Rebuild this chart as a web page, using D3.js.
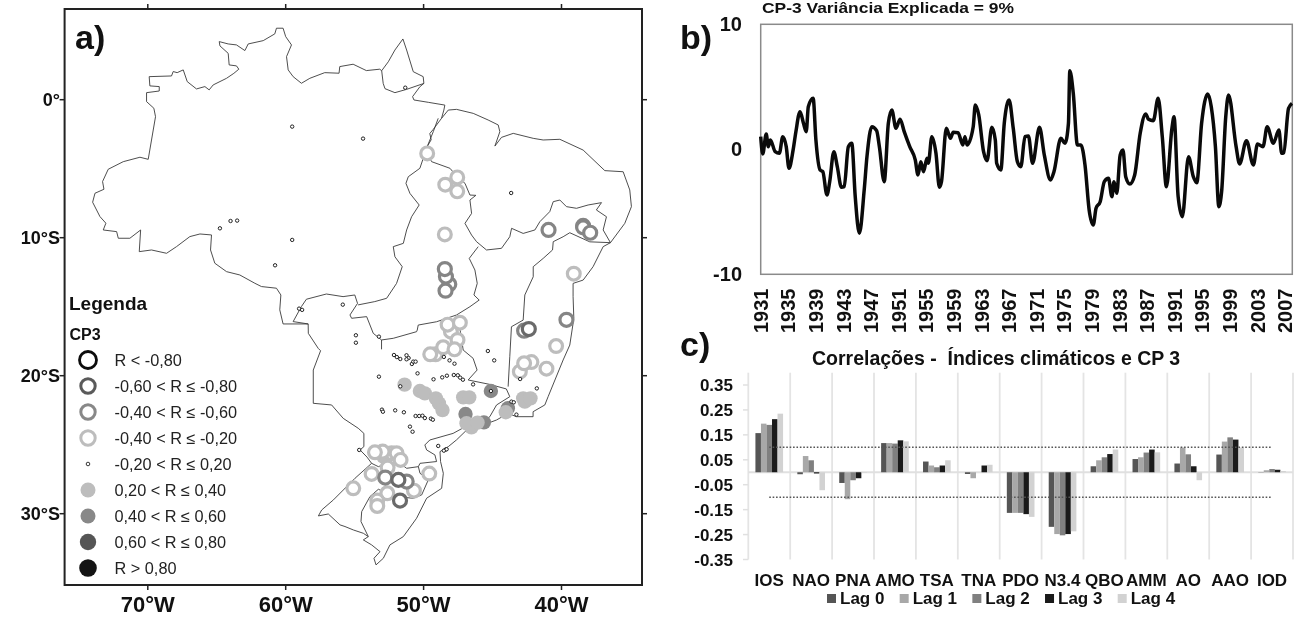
<!DOCTYPE html>
<html><head><meta charset="utf-8">
<script src="https://cdn.jsdelivr.net/npm/d3@7/dist/d3.min.js"></script>
<style>
html,body{margin:0;padding:0;background:#fff}
svg{display:block;font-family:"Liberation Sans",Arial,sans-serif;filter:blur(0.4px)}
</style></head><body><svg id="c" width="1296" height="619"></svg>
<script>
// ---------- panel a: basin boundaries [lon,lat]
const outlineNorth=[[-74.00,-7.43],[-73.83,-6.78],[-73.18,-6.49],[-73.28,-5.93],[-72.87,-5.04],[-71.78,-4.49],[-70.57,-4.17],[-69.97,-4.32],[-69.44,-1.23],[-69.56,-0.62],[-70.09,-0.14],[-70.09,0.51],[-69.17,0.63],[-69.17,0.95],[-69.85,1.00],[-69.90,1.67],[-68.28,1.72],[-68.16,2.04],[-67.87,1.96],[-67.43,2.16],[-67.14,1.31],[-66.47,0.78],[-65.86,0.95],[-65.55,0.71],[-65.26,1.07],[-64.29,1.55],[-63.76,1.91],[-63.40,2.21],[-63.57,2.45],[-64.10,2.52],[-64.17,3.36],[-64.77,3.90],[-64.82,4.21],[-64.17,4.04],[-63.57,3.97],[-62.96,3.56],[-62.72,4.04],[-61.63,4.28],[-60.79,4.77],[-60.67,5.18],[-60.19,5.18],[-60.0,4.57],[-59.58,3.97],[-59.94,3.12],[-59.82,2.16],[-59.46,1.67],[-58.86,1.19],[-58.25,1.55],[-57.17,1.96],[-56.13,1.92],[-56.08,2.40],[-55.11,2.57],[-54.15,2.11],[-53.18,2.21],[-53.04,2.10],[-52.56,2.75],[-52.08,3.60],[-51.50,4.40],[-51.23,3.60],[-50.75,2.03],[-50.03,1.67],[-49.98,1.18],[-50.27,0.94],[-50.80,0.22],[-50.70,-0.02],[-49.66,-0.19],[-48.46,-0.39],[-48.53,-0.75],[-48.70,-1.35]];
const amapaInner=[[-53.04,2.10],[-52.93,1.18],[-52.80,0.80],[-52.08,0.51],[-51.23,0.75],[-49.98,1.18]];
const tocantinsWest=[[-48.94,-1.35],[-49.30,-2.32],[-49.74,-3.40],[-50.27,-4.97],[-51.11,-5.58],[-51.28,-6.06],[-50.99,-6.79],[-50.32,-7.63],[-50.87,-8.48],[-51.23,-9.44],[-51.47,-10.41],[-52.20,-10.65],[-52.08,-11.38],[-51.55,-12.10],[-51.96,-13.31],[-52.68,-14.39],[-53.54,-14.63],[-54.75,-14.87]];
const mouthChannel=[[-48.70,-1.35],[-49.30,-2.15],[-49.55,-2.45],[-49.45,-2.90],[-49.74,-3.40]];
const westSouth=[[-74.00,-7.43],[-73.47,-8.47],[-73.04,-8.95],[-73.23,-9.44],[-72.26,-9.56],[-72.14,-10.04],[-71.30,-10.04],[-70.52,-9.44],[-70.62,-11.01],[-69.73,-10.89],[-68.64,-11.13],[-67.92,-10.65],[-66.95,-9.92],[-66.22,-9.73],[-65.38,-9.80],[-65.45,-10.89],[-65.14,-11.85],[-64.29,-12.46],[-63.33,-12.70],[-62.24,-13.30],[-61.76,-13.54],[-60.67,-13.66],[-60.35,-14.15],[-60.43,-15.23],[-60.19,-16.25],[-58.37,-16.25],[-58.36,-16.93],[-57.64,-18.02],[-57.47,-18.19],[-58.0,-19.59],[-58.0,-22.0],[-56.67,-22.12],[-55.83,-23.09],[-54.74,-23.81],[-54.33,-24.18],[-54.33,-25.14],[-54.61,-25.38],[-54.10,-25.90],[-53.77,-26.35],[-54.97,-27.43],[-55.82,-28.28],[-56.54,-29.0],[-57.39,-29.73],[-57.63,-30.16],[-56.91,-30.02],[-56.06,-30.81],[-55.70,-30.93],[-55.09,-31.18],[-54.37,-31.42],[-54.01,-31.66],[-54.37,-31.90],[-53.77,-32.26],[-53.16,-32.75],[-53.60,-33.23],[-53.45,-33.71],[-52.92,-33.23],[-52.44,-32.26],[-51.47,-31.66],[-50.51,-30.33],[-49.78,-28.88],[-48.69,-28.16],[-48.57,-27.07],[-48.77,-26.22],[-48.81,-25.50],[-48.21,-25.14],[-47.61,-24.65],[-46.89,-23.95],[-45.68,-23.57],[-44.71,-23.21],[-43.87,-22.73],[-43.27,-22.97],[-42.06,-22.97],[-42.06,-22.61],[-41.21,-22.12],[-40.97,-21.52],[-39.88,-18.86],[-39.40,-17.78],[-39.16,-16.21],[-39.11,-15.72],[-39.16,-14.27],[-39.16,-13.31],[-38.43,-13.07],[-37.71,-12.10],[-36.98,-10.65],[-36.45,-10.36],[-35.41,-8.96],[-34.93,-7.75],[-35.05,-6.54],[-35.53,-5.22],[-36.86,-5.14],[-38.43,-3.65],[-40.12,-2.87],[-41.33,-2.92],[-42.05,-2.80],[-43.50,-2.44],[-44.35,-2.73],[-44.83,-3.36],[-44.47,-2.32],[-44.59,-1.83],[-45.32,-1.47],[-46.40,-0.99],[-47.61,-0.70],[-48.21,-0.75],[-48.70,-1.35]];
const topParaguay=[[-58.37,-16.25],[-59.46,-16.08],[-58.86,-14.99],[-58.50,-14.46],[-57.05,-14.08],[-55.84,-14.27],[-54.99,-14.15],[-54.79,-14.76],[-55.34,-15.60],[-55.22,-15.84],[-54.13,-15.72],[-53.65,-16.93],[-53.05,-17.41],[-53.05,-18.09]];
const parTop=[[-53.05,-17.41],[-52.20,-17.29],[-50.51,-16.81],[-50.46,-16.69],[-50.39,-16.33],[-49.06,-16.09],[-47.61,-15.60],[-46.64,-15.0],[-45.97,-14.52],[-46.35,-14.15],[-46.11,-13.31],[-46.28,-12.34],[-46.69,-11.50],[-46.04,-10.65]];
const tocantinsEast=[[-49.74,-3.89],[-49.42,-4.49],[-48.09,-4.97],[-47.56,-5.58],[-47.0,-6.06],[-46.64,-6.91],[-46.21,-6.93],[-46.64,-7.27],[-46.52,-8.24],[-47.0,-8.96],[-46.52,-9.81],[-46.16,-10.29],[-45.44,-10.89],[-44.35,-10.77],[-43.75,-9.93],[-43.62,-9.32],[-42.78,-9.69],[-41.93,-9.44],[-41.57,-8.84],[-40.85,-8.11],[-40.60,-7.39],[-40.12,-7.27],[-39.64,-7.75],[-38.91,-7.87],[-38.07,-7.63],[-37.10,-7.46],[-37.47,-7.99],[-36.74,-8.48],[-36.98,-9.44],[-36.45,-10.36]];
const eastDivide=[[-36.45,-10.36],[-37.95,-10.30],[-39.40,-9.64],[-39.88,-9.93],[-40.60,-10.29],[-40.65,-10.89],[-41.33,-11.50],[-42.05,-12.10],[-42.05,-12.83],[-42.66,-14.15],[-42.78,-15.97],[-43.63,-16.45],[-43.75,-18.62],[-43.87,-20.79]];
const saoFrancisco=[[-47.49,-15.84],[-47.30,-17.00],[-47.13,-18.14],[-46.41,-18.74],[-46.12,-19.59],[-46.77,-20.31],[-45.20,-20.63],[-44.0,-20.96],[-43.75,-21.52],[-44.71,-22.12],[-45.20,-22.97],[-45.68,-23.33],[-46.89,-23.65],[-47.86,-24.18],[-49.55,-24.66],[-49.91,-25.02],[-49.78,-25.38],[-49.18,-25.74],[-49.06,-26.22],[-50.26,-26.35],[-50.38,-26.59]];
const iguacu=[[-53.77,-26.35],[-53.28,-26.59],[-52.68,-26.35],[-51.71,-26.35],[-51.23,-26.71],[-50.38,-26.59],[-50.26,-27.07],[-49.66,-27.55],[-50.14,-28.64],[-50.75,-28.88],[-52.08,-28.76],[-53.28,-28.23],[-53.89,-28.76],[-54.49,-29.85],[-54.54,-30.57],[-54.01,-31.66]];
const boundaries=[outlineNorth,amapaInner,tocantinsWest,mouthChannel,westSouth,topParaguay,parTop,tocantinsEast,eastDivide,saoFrancisco,iguacu];

// ---------- panel a: stations [lon,lat] per legend class
const smallStations=[[-59.53,-1.95],[-54.39,-2.82],[-64.0,-8.79],[-63.52,-8.76],[-64.77,-9.32],[-59.53,-10.16],[-60.77,-12.0],[-59.03,-15.14],[-58.81,-15.23],[-55.86,-14.85],[-51.33,0.87],[-43.65,-6.76],[-54.91,-17.07],[-54.91,-17.61],[-53.24,-17.17],[-52.15,-18.50],[-51.94,-18.65],[-51.69,-18.79],[-51.24,-18.52],[-51.09,-18.72],[-51.24,-18.81],[-50.85,-19.15],[-50.75,-18.98],[-50.58,-18.98],[-50.44,-19.83],[-53.24,-20.07],[-51.69,-20.77],[-49.28,-20.26],[-48.65,-20.12],[-48.31,-20.0],[-47.81,-19.95],[-47.52,-19.97],[-47.35,-20.14],[-47.15,-20.29],[-48.53,-18.64],[-48.12,-18.89],[-47.76,-19.13],[-45.34,-18.21],[-44.88,-18.89],[-46.41,-20.63],[-45.12,-21.11],[-43.0,-20.24],[-41.79,-20.92],[-43.63,-21.88],[-43.46,-21.93],[-53.02,-22.46],[-52.95,-22.61],[-52.06,-22.51],[-51.43,-22.65],[-50.58,-22.92],[-50.32,-22.92],[-50.08,-22.90],[-49.91,-23.07],[-49.47,-23.11],[-49.33,-23.19],[-50.99,-23.69],[-50.80,-24.06],[-48.94,-25.09],[-48.39,-25.34],[-54.67,-25.38],[-48.53,-25.43],[-48.33,-25.33],[-43.27,-22.82]];
const ringLight=[[-49.74,-3.89],[-47.56,-5.63],[-48.43,-6.16],[-47.56,-6.64],[-48.46,-9.76],[-39.11,-12.61],[-48.02,-16.81],[-47.54,-17.41],[-48.26,-16.30],[-47.37,-16.16],[-49.13,-18.45],[-49.52,-18.45],[-48.58,-17.94],[-47.76,-18.09],[-40.39,-17.85],[-43.02,-19.71],[-42.18,-19.01],[-42.71,-19.10],[-41.09,-19.49],[-52.32,-25.62],[-51.96,-25.62],[-51.67,-26.10],[-52.97,-25.50],[-53.53,-25.55],[-52.61,-26.66],[-53.77,-27.12],[-55.10,-28.16],[-49.59,-27.09],[-50.70,-28.33],[-52.63,-28.52],[-53.36,-29.05],[-53.36,-29.44]];
const ringMedium=[[-40.94,-9.44],[-38.43,-9.15],[-38.43,-9.25],[-37.92,-9.64],[-48.14,-13.38],[-48.38,-12.82],[-48.46,-12.27],[-48.41,-13.84],[-39.64,-15.95],[-42.71,-16.74],[-51.23,-27.67],[-52.78,-27.38]];
const ringDark=[[-42.37,-16.62],[-51.83,-27.55],[-51.71,-29.05]];
const fillMedium=[[-46.96,-22.78],[-45.63,-23.38],[-43.89,-22.36],[-45.12,-21.11]];
const fillLight=[[-51.38,-20.65],[-50.27,-21.11],[-49.91,-21.28],[-49.11,-21.64],[-48.89,-22.0],[-48.63,-22.49],[-47.13,-21.57],[-46.69,-21.57],[-46.89,-23.45],[-46.53,-23.74],[-46.09,-23.40],[-44.04,-22.65],[-42.78,-21.64],[-42.66,-21.88],[-42.25,-21.64],[-52.92,-25.86]];
const lonTicks=[-70,-60,-50,-40];
const latTicks=[0,-10,-20,-30];
const legendLabels=["R < -0,80","-0,60 < R ≤ -0,80","-0,40 < R ≤ -0,60","-0,40 < R ≤ -0,20","-0,20 < R ≤ 0,20","0,20 < R ≤ 0,40","0,40 < R ≤ 0,60","0,60 < R ≤ 0,80","R > 0,80"];

// ---------- panel b
const cp3Years=[1931.0,1931.3,1931.8,1932.1,1932.4,1933.1,1933.7,1934.2,1934.7,1935.1,1935.7,1936.1,1936.7,1937.2,1937.6,1937.9,1938.6,1939.0,1939.6,1940.0,1940.6,1941.0,1941.6,1942.1,1942.7,1943.1,1943.7,1944.2,1944.7,1945.3,1946.0,1946.4,1947.1,1947.8,1948.2,1948.9,1949.5,1950.0,1950.6,1951.2,1951.8,1952.6,1953.4,1953.8,1954.2,1954.6,1955.1,1955.3,1955.8,1956.4,1956.9,1957.2,1957.9,1958.5,1958.9,1959.6,1960.3,1960.6,1960.9,1961.8,1962.1,1962.6,1963.3,1963.8,1964.5,1965.0,1965.2,1965.8,1966.3,1967.0,1967.6,1968.2,1968.7,1969.3,1969.8,1970.4,1971.4,1972.1,1973.0,1973.5,1974.5,1975.1,1975.6,1975.8,1976.3,1976.9,1977.4,1978.0,1978.6,1979.2,1979.6,1980.2,1980.8,1981.4,1981.9,1982.2,1982.6,1983.1,1983.5,1983.9,1984.5,1985.2,1986.0,1986.8,1987.2,1987.9,1988.6,1989.2,1989.8,1990.6,1990.9,1991.5,1992.1,1993.0,1993.7,1994.2,1994.9,1995.8,1996.3,1996.9,1997.4,1997.8,1998.4,1998.8,1999.9,2000.4,2001.4,2002.4,2003.0,2003.8,2004.4,2005.3,2006.1,2006.5,2006.8,2007.5,2008.0];
const cp3Values=[1.01,-0.37,1.23,0.21,0.75,-0.19,-0.32,1.01,0.21,-1.52,-0.05,1.41,3.01,2.08,1.41,3.41,4.08,0.75,-1.65,-1.79,-3.65,-2.59,-0.19,-1.39,-3.04,-2.99,0.21,0.48,-3.79,-6.72,-3.25,-0.59,1.81,1.49,0.21,-2.59,2.08,3.15,1.68,2.40,1.41,0.21,-0.85,-2.05,-0.99,-1.79,-0.72,-1.12,1.01,-0.32,-3.04,-2.59,1.68,0.88,1.36,1.33,0.35,1.01,0.35,1.81,3.55,2.75,-0.19,-0.91,1.76,0.75,-1.12,-1.65,2.08,3.95,1.68,-0.99,-1.39,1.01,1.07,-1.12,1.76,-0.45,-2.45,-1.79,0.88,0.48,2.08,6.29,4.48,0.35,0.35,-1.25,-4.85,-6.05,-4.72,-4.19,-2.59,-2.32,-3.79,-2.59,-3.52,-0.45,-0.05,-2.19,-2.77,-2.05,1.28,2.83,2.40,2.29,4.08,1.01,-2.99,1.68,2.61,-3.79,-5.39,-0.59,-2.19,-2.67,2.08,4.43,3.41,0.21,-4.59,-3.39,2.61,4.35,0.21,-1.17,0.69,-1.25,0.43,0.21,1.81,0.48,1.55,-0.32,-0.27,3.28,3.68];
const yearTicks=d3.range(1931,2008,4);
const valueTicks=[10,0,-10];

// ---------- panel c
const indices=["IOS","NAO","PNA","AMO","TSA","TNA","PDO","N3.4","QBO","AMM","AO","AAO","IOD"];
const lags=["Lag 0","Lag 1","Lag 2","Lag 3","Lag 4"];
const lagColors=["#555555","#a8a8a8","#808080","#1a1a1a","#d2d2d2"];
const lag0=[0.157,-0.008,-0.043,0.117,0.043,-0.007,-0.163,-0.219,0.024,0.053,0.035,0.071,0.001];
const lag1=[0.195,0.065,-0.108,0.117,0.027,-0.024,-0.163,-0.248,0.048,0.060,0.099,0.123,0.008];
const lag2=[0.190,0.048,-0.032,0.115,0.020,0.000,-0.163,-0.253,0.060,0.079,0.072,0.140,0.013];
const lag3=[0.213,-0.005,-0.024,0.128,0.027,0.027,-0.168,-0.248,0.073,0.091,0.024,0.131,0.010];
const lag4=[0.235,-0.072,-0.002,0.124,0.048,0.030,-0.179,-0.237,0.091,0.080,-0.032,0.099,0.005];
const corrTicks=[0.35,0.25,0.15,0.05,-0.05,-0.15,-0.25,-0.35];
const significance=[0.1,-0.1];

const svg=d3.select("#c");
const ink="#111";
function txt(x,y,s,size,opt={}){
  return svg.append("text").attr("x",x).attr("y",y).text(s)
    .attr("font-size",size).attr("font-weight",opt.w||"bold").attr("fill",opt.f||ink)
    .attr("text-anchor",opt.a||"start");
}

// ===== panel a =====
const mapL=64.6,mapR=642,mapT=9,mapB=585;
const lonS=d3.scaleLinear().domain([-70,-40]).range([147.8,561.5]);
const latS=d3.scaleLinear().domain([0,-30]).range([99.7,513.7]);
const line=d3.line().x(d=>lonS(d[0])).y(d=>latS(d[1]));
const gMap=svg.append("g");
gMap.append("rect").attr("x",mapL).attr("y",mapT).attr("width",mapR-mapL).attr("height",mapB-mapT).attr("fill","#fff");
gMap.selectAll("path.b").data(boundaries).join("path").attr("class","b").attr("d",line)
  .attr("fill","none").attr("stroke","#3a3a3a").attr("stroke-width",0.9).attr("stroke-linejoin","round");
function fills(data,c,r){gMap.append("g").selectAll("circle").data(data).join("circle")
  .attr("cx",d=>lonS(d[0])).attr("cy",d=>latS(d[1])).attr("r",r).attr("fill",c);}
function rings(data,c,r,w){gMap.append("g").selectAll("circle").data(data).join("circle")
  .attr("cx",d=>lonS(d[0])).attr("cy",d=>latS(d[1])).attr("r",r).attr("fill","#fff").attr("stroke",c).attr("stroke-width",w);}
const classColors=["#0c0c0c","#5a5a5a","#888888","#bdbdbd"];
fills(fillMedium,"#888888",7.2);
fills(fillLight,"#bdbdbd",7.2);
rings(ringLight,"#bdbdbd",6.4,3.2);
rings(ringMedium,"#858585",6.5,3.2);
rings(ringDark,"#6a6a6a",6.5,3.2);
rings(smallStations,"#222",1.7,1);
gMap.append("rect").attr("x",mapL).attr("y",mapT).attr("width",mapR-mapL).attr("height",mapB-mapT)
  .attr("fill","none").attr("stroke","#222").attr("stroke-width",2);
lonTicks.forEach(l=>{
  const x=lonS(l);
  gMap.append("line").attr("x1",x).attr("x2",x).attr("y1",mapT-5).attr("y2",mapT).attr("stroke","#222").attr("stroke-width",1.5);
  gMap.append("line").attr("x1",x).attr("x2",x).attr("y1",mapB).attr("y2",mapB+5).attr("stroke","#222").attr("stroke-width",1.5);
  txt(x,612,Math.abs(l)+"°W",22,{a:"middle"});
});
latTicks.forEach(l=>{
  const y=latS(l);
  gMap.append("line").attr("x1",mapL-5).attr("x2",mapL).attr("y1",y).attr("y2",y).attr("stroke","#222").attr("stroke-width",1.5);
  gMap.append("line").attr("x1",mapR).attr("x2",mapR+5).attr("y1",y).attr("y2",y).attr("stroke","#222").attr("stroke-width",1.5);
  txt(60,y+6.5,l===0?"0°":Math.abs(l)+"°S",18,{a:"end"});
});
txt(75,49,"a)",34);
txt(69,310,"Legenda",19);
txt(69.5,340,"CP3",16);
const legY=d3.scalePoint().domain(legendLabels).range([360,568]);
legendLabels.forEach((s,i)=>{
  const y=legY(s),x=88;
  const c=gMap.append("circle").attr("cx",x).attr("cy",y);
  if(i<4){c.attr("r",i===0?8.5:7.2).attr("fill","none").attr("stroke",classColors[i]).attr("stroke-width",i===0?2.8:3);}
  else if(i===4){c.attr("r",1.8).attr("fill","none").attr("stroke","#222").attr("stroke-width",0.9);}
  else{c.attr("r",i===8?8.8:i===7?8.2:7.5).attr("fill",["#bdbdbd","#888888","#555555","#141414"][i-5]);}
  txt(114.5,y+6,s,16.3,{w:"normal",f:"#222"});
});

// ===== panel b =====
const bL=760.7,bR=1292.3,bT=24.3,bB=274.3;
const tS=d3.scaleLinear().domain([1931,1931+(bR-bL)/6.9]).range([bL,bR]);
const vS=d3.scaleLinear().domain([-10,10]).range([bB,bT]);
svg.append("rect").attr("x",bL).attr("y",bT).attr("width",bR-bL).attr("height",bB-bT)
  .attr("fill","#fff").attr("stroke","#8a8a8a").attr("stroke-width",1.5);
svg.append("path").datum(cp3Years.map((y,i)=>[y,cp3Values[i]]))
  .attr("d",d3.line().curve(d3.curveMonotoneX).x(d=>tS(d[0])).y(d=>vS(d[1])))
  .attr("fill","none").attr("stroke","#0a0a0a").attr("stroke-width",3.5).attr("stroke-linejoin","round");
valueTicks.forEach(v=>txt(742,vS(v)+7,String(v),20,{a:"end"}));
yearTicks.forEach(y=>{
  svg.append("text").attr("transform",`translate(${tS(y)+7},333) rotate(-90)`).text(y)
    .attr("font-size",20).attr("font-weight","bold").attr("fill",ink);
});
txt(762,13,"CP-3 Variância Explicada = 9%",14).attr("textLength",252).attr("lengthAdjust","spacingAndGlyphs");
txt(680,49,"b)",34);
txt(680,356,"c)",34);

// ===== panel c =====
const cL=748.3,cR=1293,cT=372.7,cB=559.5;
const catS=d3.scaleBand().domain(indices).range([cL,cR]).paddingInner(0.34).paddingOuter(0.17);
const cY=d3.scaleLinear().domain([-0.35,0.35]).range([559.5,385]);
const lagS=d3.scaleBand().domain(lags).range([0,catS.bandwidth()]);
const lagData=[lag0,lag1,lag2,lag3,lag4];
const stepC=(cR-cL)/indices.length;
d3.range(indices.length+1).forEach(i=>{
  const x=cL+i*stepC;
  svg.append("line").attr("x1",x).attr("x2",x).attr("y1",cT).attr("y2",cB).attr("stroke","#e4e4e4").attr("stroke-width",1.8);
});
corrTicks.forEach(v=>{
  svg.append("line").attr("x1",743).attr("x2",cL).attr("y1",cY(v)).attr("y2",cY(v)).attr("stroke","#e0e0e0").attr("stroke-width",1.5);
  txt(733,cY(v)+6,v.toFixed(2),17,{a:"end"});
});
svg.append("line").attr("x1",cL).attr("x2",cR).attr("y1",cY(0)).attr("y2",cY(0)).attr("stroke","#e0e0e0").attr("stroke-width",2);
lagData.forEach((vals,li)=>{
  svg.append("g").selectAll("rect").data(vals).join("rect")
    .attr("x",(d,i)=>catS(indices[i])+lagS(lags[li]))
    .attr("width",lagS.bandwidth())
    .attr("y",d=>Math.min(cY(d),cY(0)))
    .attr("height",d=>Math.abs(cY(d)-cY(0)))
    .attr("fill",lagColors[li]);
});
significance.forEach(v=>{
  svg.append("line").attr("x1",catS(indices[0])+catS.bandwidth()/2).attr("x2",catS(indices[12])+catS.bandwidth()/2)
    .attr("y1",cY(v)).attr("y2",cY(v)).attr("stroke","#555").attr("stroke-width",1.4).attr("stroke-dasharray","1.6 1.8");
});
indices.forEach(n=>txt(catS(n)+catS.bandwidth()/2,586,n,17,{a:"middle"}));
txt(812,365,"Correlações -  Índices climáticos e CP 3",19.5).style("white-space","pre");
const legC=d3.scalePoint().domain(lags).range([827,1117.7]);
lags.forEach((l,i)=>{
  svg.append("rect").attr("x",legC(l)).attr("y",594).attr("width",9).attr("height",9).attr("fill",lagColors[i]);
  txt(legC(l)+13,604,l,17);
});
</script></body></html>
